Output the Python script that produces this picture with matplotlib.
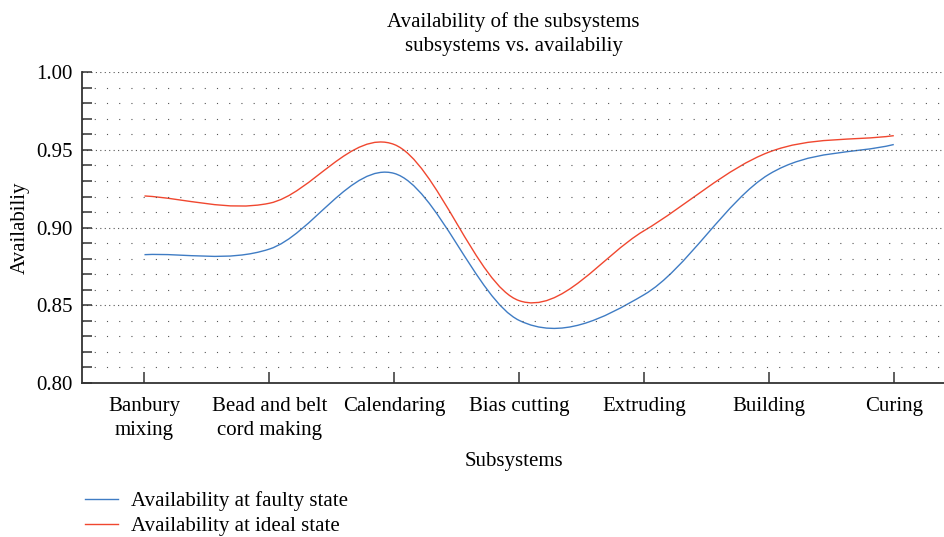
import matplotlib
matplotlib.use("Agg")
import matplotlib.pyplot as plt
from matplotlib.path import Path
from matplotlib.patches import PathPatch
from matplotlib.lines import Line2D
from matplotlib.ticker import MultipleLocator
import numpy as np

plt.rcParams['font.family'] = ['Liberation Serif', 'DejaVu Serif']

categories = ["Banbury\nmixing", "Bead and belt\ncord making", "Calendaring",
              "Bias cutting", "Extruding", "Building", "Curing"]
faulty = [0.8826, 0.8862, 0.9349, 0.8403, 0.8568, 0.9343, 0.9535]
ideal = [0.9204, 0.9157, 0.9535, 0.8530, 0.8980, 0.9486, 0.9592]
series_labels = ["Availability at faulty state", "Availability at ideal state"]
colors = ["#3f7cc4", "#f0472f"]
FS = 15


def smooth_path(xs, ys):
    xs = np.asarray(xs, float)
    ys = np.asarray(ys, float)
    n = len(xs)
    m = np.zeros(n)
    for i in range(n):
        if i == 0:
            m[i] = (ys[1] - ys[0]) / (xs[1] - xs[0])
        elif i == n - 1:
            m[i] = (ys[-1] - ys[-2]) / (xs[-1] - xs[-2])
        else:
            m[i] = (ys[i + 1] - ys[i - 1]) / (xs[i + 1] - xs[i - 1])
    verts = [(xs[0], ys[0])]
    codes = [Path.MOVETO]
    for i in range(n - 1):
        h = xs[i + 1] - xs[i]
        verts += [(xs[i] + h / 3, ys[i] + m[i] * h / 3),
                  (xs[i + 1] - h / 3, ys[i + 1] - m[i + 1] * h / 3),
                  (xs[i + 1], ys[i + 1])]
        codes += [Path.CURVE4] * 3
    return Path(verts, codes)


fig = plt.figure(figsize=(9.45, 5.37), dpi=100)
ax = fig.add_axes([0.0868, 0.2868, 0.9132, 0.5786])

x = np.arange(len(categories))
for vals, c in zip([faulty, ideal], colors):
    ax.add_patch(PathPatch(smooth_path(x, vals), facecolor='none', edgecolor=c, lw=1.0))

ax.set_xlim(-0.5, 6.41)
ax.set_ylim(0.80, 1.00)
ax.set_xticks(x)
ax.set_xticklabels(categories, fontsize=FS, linespacing=1.35)
ax.yaxis.set_major_locator(MultipleLocator(0.05))
ax.yaxis.set_minor_locator(MultipleLocator(0.01))
yt = np.arange(0.80, 1.001, 0.05)
ax.set_yticks(yt)
ax.set_yticklabels([f"{v:.2f}" for v in yt], fontsize=FS)

ax.grid(axis='y', which='major', color='#555555', lw=0.8, linestyle=(0, (1, 3)))
ax.grid(axis='y', which='minor', color='#555555', lw=0.8, linestyle=(0, (1, 10)))

for s in ['top', 'right']:
    ax.spines[s].set_visible(False)
for s in ['left', 'bottom']:
    ax.spines[s].set_color('#333333')
    ax.spines[s].set_linewidth(1.3)
ax.tick_params(axis='both', which='both', direction='in', color='#333333', width=1.1)
ax.tick_params(axis='x', length=8, pad=10)
ax.tick_params(axis='y', which='major', length=7, pad=7)
ax.tick_params(axis='y', which='minor', length=7)

ax.set_xlabel("Subsystems", fontsize=FS, labelpad=9)
ax.set_ylabel("Availabiliy", fontsize=FS, labelpad=4.5)
ax.set_title("Availability of the subsystems\nsubsystems vs. availabiliy", fontsize=FS,
             linespacing=1.4, pad=15)

handles = [Line2D([0], [0], color=c, lw=1.0) for c in colors]
fig.legend(handles, series_labels, loc='upper left', bbox_to_anchor=(0.09, 0.085),
           frameon=False, fontsize=FS, handlelength=1.6, handletextpad=0.6,
           labelspacing=0.25, borderaxespad=0, borderpad=0)

fig.savefig("out.png", dpi=100)
